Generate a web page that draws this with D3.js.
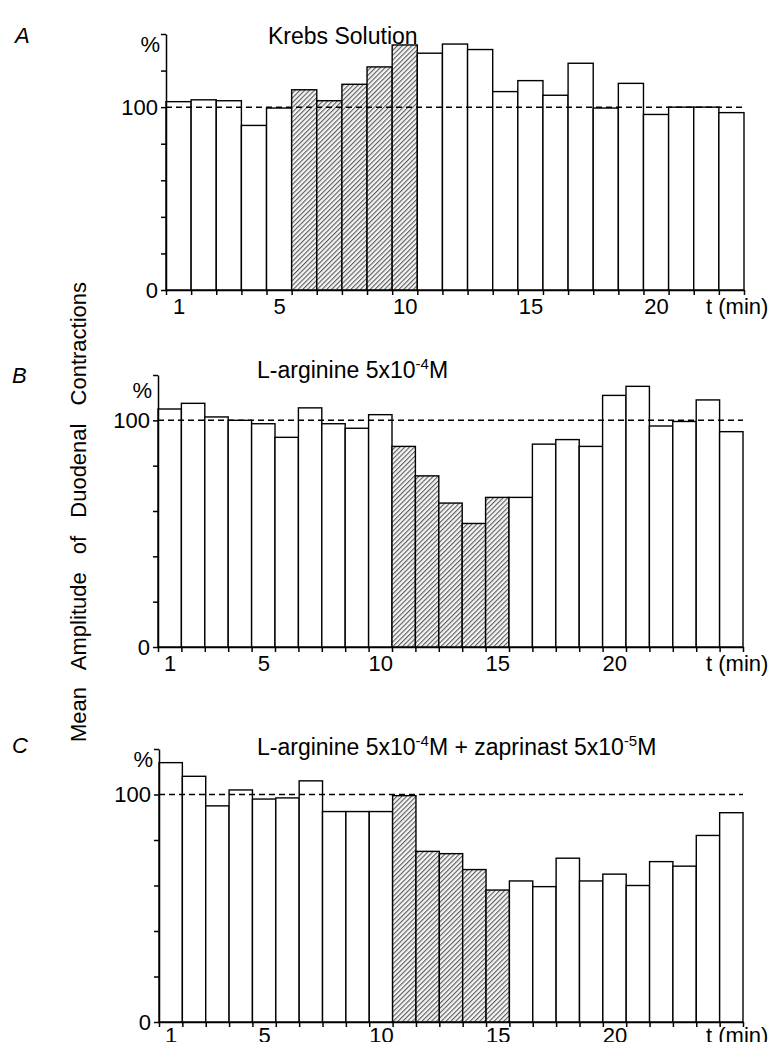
<!DOCTYPE html>
<html lang="en">
<head>
<meta charset="utf-8">
<title>Mean Amplitude of Duodenal Contractions</title>
<script src="https://d3js.org/d3.v7.min.js"></script>
<style>
  body { margin: 0; background: #fff; }
  svg { display: block; font-family: "Liberation Sans", Arial, Helvetica, sans-serif; }
  .axis path, .axis line { stroke: #000; stroke-width: 1.5; }
  .axis text { font-size: 22px; fill: #000; font-family: "Liberation Sans", Arial, sans-serif; }
  .bar { stroke: #000; stroke-width: 1.4; }
</style>
</head>
<body>
<div id="chart"></div>
<script>
// values in % of control, one bar per minute
var krebsValues = [103, 104, 103.5, 90, 99.5, 109.5, 103.5, 112.5, 122, 134, 129.5, 134.5,
                   131.5, 108.5, 114.5, 106.5, 124, 99.5, 113, 96, 100, 100, 97];
var arginineValues = [105, 107.5, 101.5, 100, 98.5, 92.5, 105.5, 98.5, 96.5, 102.5, 88.5, 75.5,
                      63.5, 54.5, 66, 66, 89.5, 91.5, 88.5, 111, 115, 97.5, 99.5, 109, 95];
var zaprinastValues = [114, 108, 95, 102, 98, 98.5, 106, 92.5, 92.5, 92.5, 99.5, 75, 74,
                       67, 58, 62, 59.5, 72, 62, 65, 60, 70.5, 68.5, 82, 92];

// minutes during which the drug was applied (hatched bars)
var krebsTreated = [6, 7, 8, 9, 10];
var arginineTreated = [11, 12, 13, 14, 15];
var zaprinastTreated = [11, 12, 13, 14, 15];

var xTickLabels = [1, 5, 10, 15, 20];
var yLabelTicks = [0, 100];

var width = 772, height = 1042;

var svg = d3.select("#chart").append("svg")
    .attr("width", width)
    .attr("height", height);

// hatch pattern
var pat = svg.append("defs").append("pattern")
    .attr("id", "hatch")
    .attr("patternUnits", "userSpaceOnUse")
    .attr("width", 3.4)
    .attr("height", 3.4)
    .attr("patternTransform", "rotate(45)");
pat.append("rect").attr("width", 3.4).attr("height", 3.4).attr("fill", "#f4f4f4");
pat.append("line")
    .attr("x1", 0.6).attr("y1", 0).attr("x2", 0.6).attr("y2", 3.4)
    .attr("stroke", "#3a3a3a").attr("stroke-width", 0.9);

var panels = [
    { letter: "A", title: [["Krebs Solution"]], values: krebsValues, treated: krebsTreated,
      yMax: 140, left: 166, right: 744, zero: 290, top: 34, titleX: 268, titleY: 35,
      letterX: 15, letterY: 43, pctY: 52, labelPad: 8 },
    { letter: "B", title: [["L-arginine 5x10"], ["-4", "sup"], ["M"]], values: arginineValues, treated: arginineTreated,
      yMax: 120, left: 158, right: 743, zero: 647, top: 375, titleX: 257, titleY: 369,
      letterX: 12, letterY: 383, pctY: 398, labelPad: 8 },
    { letter: "C", title: [["L-arginine 5x10"], ["-4", "sup"], ["M + zaprinast 5x10"], ["-5", "sup"], ["M"]],
      values: zaprinastValues, treated: zaprinastTreated,
      yMax: 120, left: 159, right: 743, zero: 1022, top: 749, titleX: 257, titleY: 746,
      letterX: 12, letterY: 753, pctY: 767, labelPad: 5 }
];

panels.forEach(function(p) {
    var n = p.values.length;
    var x = d3.scaleLinear().domain([0.5, n + 0.5]).range([p.left, p.right]);
    var y = d3.scaleLinear().domain([0, p.yMax]).range([p.zero, p.top]);

    var g = svg.append("g");

    g.selectAll(".bar")
        .data(p.values)
        .enter().append("rect")
        .attr("class", "bar")
        .attr("x", function(d, i) { return x(i + 0.5); })
        .attr("width", function(d, i) { return x(i + 1.5) - x(i + 0.5); })
        .attr("y", function(d) { return y(d); })
        .attr("height", function(d) { return y(0) - y(d); })
        .attr("fill", function(d, i) { return p.treated.indexOf(i + 1) >= 0 ? "url(#hatch)" : "#fff"; });

    // control level
    g.append("line")
        .attr("x1", x(0.5)).attr("x2", x(n + 0.5))
        .attr("y1", y(100)).attr("y2", y(100))
        .attr("stroke", "#000")
        .attr("stroke-width", 1.5)
        .attr("stroke-dasharray", "6,4");

    // x axis: ticks at bar edges, labels at bar centres
    g.append("g")
        .attr("class", "axis")
        .attr("transform", "translate(0," + p.zero + ")")
        .call(d3.axisBottom(x)
            .tickValues(d3.range(0.5, n + 1, 1))
            .tickSize(5)
            .tickSizeOuter(0)
            .tickFormat(""));

    var xl = g.append("g")
        .attr("class", "axis")
        .attr("transform", "translate(0," + p.zero + ")")
        .call(d3.axisBottom(x).tickValues(xTickLabels).tickSize(0).tickPadding(p.labelPad));
    xl.select(".domain").remove();

    g.append("text")
        .attr("x", 706)
        .attr("y", p.zero + p.labelPad + 16)
        .style("font-size", "22px")
        .text("t (min)");

    // y axis
    g.append("g")
        .attr("class", "axis")
        .attr("transform", "translate(" + p.left + ",0)")
        .call(d3.axisLeft(y)
            .tickValues(d3.range(0, p.yMax + 1, 20))
            .tickSize(5)
            .tickSizeOuter(0)
            .tickPadding(3)
            .tickFormat(function(d) { return yLabelTicks.indexOf(d) >= 0 ? d : ""; }));

    g.append("text")
        .attr("x", p.left - 6)
        .attr("y", p.pctY)
        .attr("text-anchor", "end")
        .style("font-size", "22px")
        .text("%");

    g.append("text")
        .attr("x", p.letterX)
        .attr("y", p.letterY)
        .style("font-size", "22px")
        .style("font-style", "italic")
        .text(p.letter);

    var t = g.append("text")
        .attr("x", p.titleX)
        .attr("y", p.titleY)
        .style("font-size", "23px");
    p.title.forEach(function(part) {
        if (part[1] === "sup") {
            t.append("tspan").attr("dy", -9).style("font-size", "15px").text(part[0]);
        } else {
            t.append("tspan").attr("dy", t.selectAll("tspan").size() ? 9 : 0).text(part[0]);
        }
    });
});

svg.append("text")
    .attr("transform", "translate(86,512) rotate(-90)")
    .attr("text-anchor", "middle")
    .style("font-size", "22px")
    .style("word-spacing", "12px")
    .text("Mean Amplitude of Duodenal Contractions");
</script>
</body>
</html>
